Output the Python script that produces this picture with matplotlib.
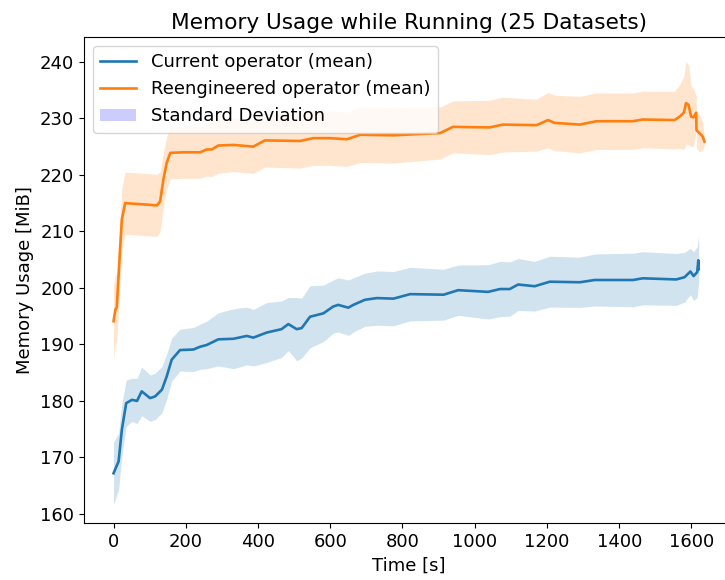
import numpy as np
import matplotlib
matplotlib.use("Agg")
import matplotlib.pyplot as plt
from matplotlib.patches import Patch

# current operator (blue)
t_cur = [0, 14, 23, 35, 51, 65, 78, 101, 115, 134, 147, 161, 184, 221, 240,
         258, 290, 332, 369, 387, 424, 465, 484, 507, 521, 544, 581, 608, 622,
         650, 664, 696, 729, 775, 821, 914, 954, 1037, 1070, 1097, 1120, 1166,
         1208, 1291, 1332, 1438, 1465, 1558, 1581, 1597, 1606, 1616, 1619, 1620]
mean_cur = [167.2, 169.3, 174.9, 179.6, 180.2, 180.0, 181.7, 180.5, 180.8,
            182.0, 184.3, 187.3, 189.0, 189.1, 189.6, 189.9, 190.9, 191.0,
            191.5, 191.2, 192.1, 192.7, 193.6, 192.7, 192.9, 194.9, 195.5,
            196.7, 197.0, 196.5, 197.0, 197.9, 198.2, 198.1, 198.9, 198.8,
            199.6, 199.3, 199.8, 199.8, 200.6, 200.3, 201.1, 201.0, 201.4,
            201.4, 201.7, 201.5, 201.9, 202.9, 202.1, 202.8, 204.9, 203.3]
std_cur = [5.5, 5.0, 4.6, 4.1, 3.8, 4.0, 4.3, 4.1, 4.1, 4.1, 4.0, 3.8, 3.7,
           3.9, 4.0, 4.2, 4.7, 5.3, 5.1, 5.0, 5.3, 5.0, 4.7, 5.6, 5.3, 5.5,
           5.0, 4.7, 4.8, 4.9, 4.8, 4.7, 4.8, 4.8, 4.75, 4.5, 4.45, 4.8, 4.9,
           4.8, 4.6, 4.4, 4.5, 4.45, 4.6, 4.75, 4.7, 4.6, 4.4, 4.1, 4.3, 4.5,
           4.2, 4.2]

# reengineered operator (orange)
t_new = [0, 5, 9, 17, 23, 32, 55, 101, 120, 129, 138, 147, 157, 194, 240,
         258, 272, 290, 332, 387, 419, 516, 553, 599, 646, 683, 775, 904, 940,
         1041, 1078, 1171, 1203, 1221, 1291, 1337, 1438, 1465, 1553, 1567,
         1579, 1585, 1592, 1599, 1606, 1613, 1614, 1622, 1631, 1636]
mean_new = [194.1, 196.1, 196.6, 205.6, 212.1, 215.0, 214.9, 214.7, 214.6,
            215.3, 219.2, 222.1, 223.9, 224.0, 224.0, 224.5, 224.5, 225.2,
            225.3, 225.0, 226.1, 226.0, 226.5, 226.5, 226.3, 227.1, 227.0,
            227.4, 228.5, 228.4, 228.9, 228.8, 229.7, 229.2, 228.9, 229.5,
            229.5, 229.8, 229.7, 230.3, 231.0, 232.7, 232.4, 230.3, 230.2,
            231.0, 227.9, 227.4, 226.8, 225.9]
std_new = [6.5, 6.2, 6.0, 5.6, 5.6, 5.5, 5.5, 5.5, 5.5, 5.3, 4.8, 4.6, 4.6,
           4.6, 4.6, 4.7, 4.8, 4.9, 4.7, 4.75, 4.7, 4.8, 4.8, 4.8, 4.8, 4.9,
           4.9, 4.6, 4.6, 4.8, 4.85, 4.6, 4.9, 4.9, 5.0, 5.0, 5.0, 5.0, 5.1,
           5.6, 6.5, 7.4, 7.0, 5.4, 5.0, 3.0, 3.2, 3.3, 2.5, 0.5]

plt.rcParams['font.size'] = 13

fig = plt.figure(figsize=(7.25, 5.8), dpi=100)
ax = fig.add_axes([84/725, 57/580, 650/725, 486/580])

t1, m1, s1 = np.array(t_cur), np.array(mean_cur), np.array(std_cur)
t2, m2, s2 = np.array(t_new), np.array(mean_new), np.array(std_new)

ax.plot(t1, m1, color='C0', lw=1.9, label='Current operator (mean)')
ax.fill_between(t1, m1 - s1, m1 + s1, color='C0', alpha=0.2, lw=0)
ax.plot(t2, m2, color='C1', lw=1.9, label='Reengineered operator (mean)')
ax.fill_between(t2, m2 - s2, m2 + s2, color='C1', alpha=0.2, lw=0)

ax.set_ylim(158.4, 244.4)
ax.set_title('Memory Usage while Running (25 Datasets)', fontsize=15.6)
ax.set_xlabel('Time [s]')
ax.set_ylabel('Memory Usage [MiB]')

handles, labels = ax.get_legend_handles_labels()
handles.append(Patch(color='blue', alpha=0.2, lw=0))
labels.append('Standard Deviation')
ax.legend(handles, labels, loc='upper left')

fig.savefig('out.png', dpi=100)
